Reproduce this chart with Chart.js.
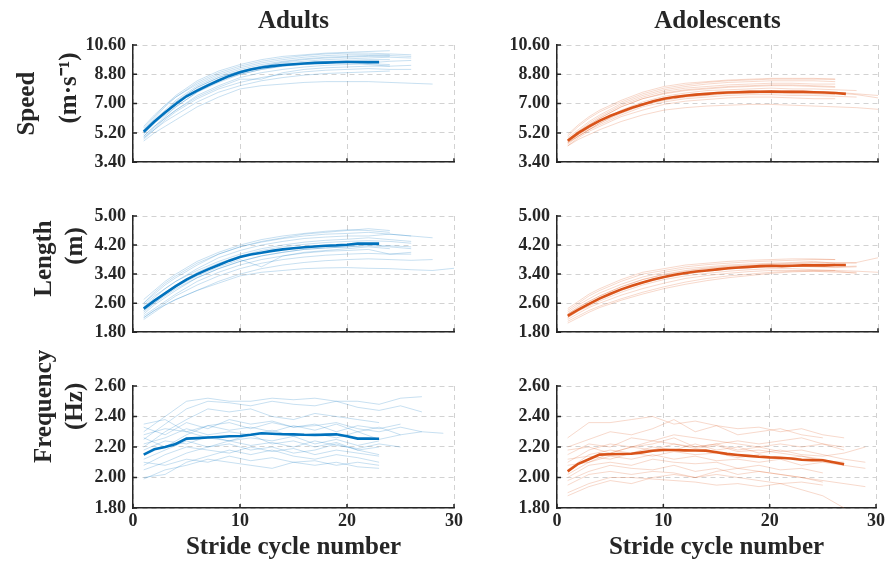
<!DOCTYPE html>
<html>
<head>
<meta charset="utf-8">
<script src="https://cdn.jsdelivr.net/npm/chart.js@4"></script>
<style>
body { margin: 0; background: #fff; }
#wrap { position: relative; width: 888px; height: 563px; background: #fff; }
canvas { position: absolute; }
</style>
</head>
<body>
<div id="wrap">
  <canvas id="adSpeed" width="470" height="180" style="left:0;top:0"></canvas>
  <canvas id="adoSpeed" width="418" height="180" style="left:470px;top:0"></canvas>
  <canvas id="adLength" width="470" height="170" style="left:0;top:180px"></canvas>
  <canvas id="adoLength" width="418" height="170" style="left:470px;top:180px"></canvas>
  <canvas id="adFreq" width="470" height="213" style="left:0;top:350px"></canvas>
  <canvas id="adoFreq" width="418" height="213" style="left:470px;top:350px"></canvas>
</div>
<script>
// tick labels
const strideTicks = [0, 10, 20, 30];
const speedTicks = [3.4, 5.2, 7.0, 8.8, 10.6];
const lengthTicks = [1.8, 2.6, 3.4, 4.2, 5.0];
const freqTicks = [1.8, 2.0, 2.2, 2.4, 2.6];

// stride numbers of the group means
const adultStrides = [1,2,3,4,5,6,7,8,9,10,11,12,13,14,15,16,17,18,19,20,21,22,23];
const adolescentStrides = [1,2,3,4,5,6,7,8,9,10,11,12,13,14,15,16,17,18,19,20,21,22,23,24,25,26,27];

// group means
const adultSpeedMean = [5.27,5.9,6.45,6.98,7.45,7.8,8.12,8.42,8.7,8.92,9.1,9.22,9.3,9.37,9.42,9.46,9.5,9.52,9.54,9.56,9.56,9.55,9.55];
const adolescentSpeedMean = [4.72,5.2,5.6,5.95,6.25,6.5,6.75,6.95,7.15,7.3,7.4,7.48,7.55,7.6,7.65,7.68,7.7,7.72,7.73,7.74,7.73,7.72,7.72,7.7,7.68,7.65,7.6];
const adultLengthMean = [2.45,2.67,2.87,3.07,3.25,3.4,3.53,3.65,3.77,3.87,3.94,3.99,4.04,4.08,4.11,4.14,4.16,4.18,4.19,4.21,4.24,4.24,4.24];
const adolescentLengthMean = [2.25,2.42,2.58,2.73,2.86,2.98,3.08,3.17,3.25,3.32,3.38,3.43,3.47,3.5,3.53,3.56,3.58,3.6,3.62,3.63,3.62,3.63,3.64,3.64,3.64,3.65,3.65];
const adultFreqMean = [2.15,2.185,2.2,2.22,2.255,2.258,2.262,2.266,2.27,2.272,2.28,2.29,2.287,2.284,2.283,2.28,2.279,2.281,2.283,2.27,2.255,2.255,2.254];
const adolescentFreqMean = [2.04,2.09,2.12,2.15,2.152,2.154,2.156,2.165,2.175,2.18,2.18,2.178,2.177,2.176,2.165,2.155,2.148,2.142,2.136,2.132,2.13,2.125,2.116,2.114,2.113,2.1,2.087];

const smoothStrides = [1,2,3,4,6,8,10,12,14,16,18,20,22,24,26,28,30];
const oddStrides = [1,3,5,7,9,11,13,15,17,19,21,23,25,27,29];

// single subjects (each array stops where that subject stops)
const adultSpeedSubjects = [
  [5.5,6.2,6.9,7.5,8.4,9.0,9.4,9.7,9.9,10.0,10.1,10.15,10.2,10.25],
  [5.4,6.1,6.8,7.4,8.3,8.9,9.3,9.6,9.8,9.95,10.05,10.1,10.1,10.05,10.0],
  [5.3,6.0,6.6,7.2,8.1,8.7,9.1,9.4,9.6,9.75,9.85,9.9,9.95,9.9],
  [5.2,5.9,6.5,7.1,8.0,8.6,9.0,9.3,9.5,9.6,9.7,9.75,9.8,9.85,9.8],
  [5.1,5.8,6.4,7.0,7.9,8.5,8.9,9.2,9.4,9.5,9.6,9.65,9.7,9.7],
  [5.2,5.8,6.3,6.8,7.7,8.4,8.8,9.1,9.3,9.45,9.55,9.6,9.5,9.6,9.65],
  [5.0,5.6,6.2,6.8,7.7,8.3,8.8,9.1,9.3,9.4,9.5,9.55,9.4,9.3,9.35],
  [4.9,5.5,6.1,6.6,7.5,8.1,8.6,8.9,9.1,9.25,9.35,9.4,9.45,9.4],
  [5.0,5.6,6.1,6.6,7.4,8.0,8.5,8.5,8.9,9.1,9.2,9.25,9.3,9.3],
  [4.8,5.4,6.0,6.5,7.3,7.9,8.3,8.6,8.8,8.95,9.05,9.1,9.15,9.1,9.1],
  [4.9,5.4,5.9,6.3,7.1,7.7,8.1,8.4,8.6,8.75,8.85,8.9,8.95,9.0],
  [4.7,5.2,5.6,6.0,6.8,7.4,7.9,8.1,8.2,8.3,8.35,8.35,8.35,8.3,8.25,8.2],
  [5.3,5.9,6.5,7.1,8.0,8.6,9.0,9.3,9.55,9.7,9.8,9.85,9.9,9.95,9.9],
  [5.6,6.3,6.9,7.4,8.2,8.8,9.2,9.5,9.7,9.85,9.95,10.0,10.0,10.0]
];
const adolescentSpeedSubjects = [
  [5.0,5.6,6.1,6.5,7.1,7.6,7.95,8.15,8.3,8.4,8.45,8.5,8.5,8.5,8.5],
  [4.9,5.4,5.9,6.3,7.0,7.5,7.85,8.05,8.2,8.3,8.35,8.4,8.4,8.4,8.35],
  [4.8,5.3,5.8,6.2,6.9,7.4,7.75,7.95,8.05,8.15,8.2,8.25,8.25,8.2,8.2],
  [4.7,5.2,5.7,6.1,6.8,7.3,7.6,7.8,7.9,8.0,8.05,8.1,8.1,8.05,8.0],
  [4.6,5.1,5.5,5.9,6.6,7.1,7.45,7.65,7.8,7.85,7.9,7.95,7.9,7.9,7.85,7.8],
  [4.7,5.1,5.5,5.9,6.5,7.0,7.35,7.55,7.65,7.75,7.8,7.8,7.8,7.75,7.7,7.6,7.5],
  [4.5,5.0,5.4,5.8,6.4,6.9,7.2,7.4,7.5,7.6,7.65,7.65,7.6,7.6,7.55],
  [4.6,5.0,5.4,5.7,6.3,6.8,7.1,7.3,7.4,7.5,7.55,7.55,7.5,7.5,7.45,7.4],
  [4.4,4.9,5.3,5.6,6.2,6.6,6.95,7.15,7.25,7.35,7.4,7.4,7.35,7.3,7.3],
  [4.4,4.8,5.1,5.4,5.9,6.3,6.6,6.75,6.85,6.9,6.95,6.95,6.9,6.85,6.8,6.75,6.65],
  [5.1,5.7,6.2,6.6,7.2,7.7,8.05,8.25,8.35,8.45,8.5,8.55,8.55,8.55,8.5],
  [4.8,5.3,5.7,6.1,6.8,7.3,7.65,7.85,7.95,8.05,8.1,8.15,8.15,8.1,8.05],
  [4.6,5.0,5.4,5.8,6.5,7.0,7.3,7.5,7.6,7.7,7.75,7.75,7.75,7.7,7.65,7.55,7.35]
];
const adultLengthSubjects = [
  [2.7,2.95,3.2,3.4,3.75,4.0,4.2,4.35,4.45,4.52,4.58,4.62,4.6,4.55],
  [2.6,2.85,3.1,3.3,3.65,3.95,4.15,4.3,4.4,4.5,4.55,4.6,4.65,4.6],
  [2.5,2.75,3.0,3.2,3.55,3.85,4.05,4.2,4.3,4.38,4.42,4.45,4.45,4.5,4.45],
  [2.55,2.8,3.0,3.2,3.5,3.75,3.95,4.1,4.2,4.28,4.33,4.36,4.4,4.35,4.3],
  [2.4,2.65,2.9,3.1,3.45,3.7,3.9,4.05,4.15,4.22,4.27,4.3,4.32,4.3,4.25],
  [2.4,2.6,2.85,3.05,3.35,3.6,3.8,3.6,3.9,4.0,4.05,4.1,4.15,4.1],
  [2.3,2.55,2.75,2.95,3.3,3.55,3.75,3.9,4.0,4.08,4.12,4.15,4.18,4.15,4.1],
  [2.25,2.45,2.65,2.85,3.2,3.45,3.65,3.8,3.9,3.98,4.03,4.05,4.08,3.95,4.0],
  [2.2,2.4,2.6,2.8,3.1,3.35,3.55,3.7,3.8,3.87,3.92,3.95,3.97,3.95,3.95],
  [2.15,2.35,2.55,2.7,2.95,3.2,3.4,3.55,3.65,3.72,3.77,3.8,3.82,3.8,3.78,3.8],
  [2.2,2.4,2.55,2.7,2.95,3.15,3.35,3.45,3.5,3.55,3.57,3.58,3.56,3.55,3.52,3.5,3.56],
  [2.6,2.9,3.15,3.35,3.7,3.95,4.15,4.28,4.38,4.45,4.5,4.52,4.55,4.5,4.45,4.4],
  [2.35,2.6,2.8,3.0,3.3,3.55,3.75,3.9,4.0,4.08,4.12,4.15,4.2,4.18,4.15]
];
const adolescentLengthSubjects = [
  [2.45,2.65,2.85,3.0,3.25,3.45,3.55,3.65,3.7,3.75,3.78,3.8,3.82,3.82,3.8],
  [2.4,2.6,2.8,2.95,3.2,3.4,3.5,3.6,3.66,3.7,3.74,3.76,3.78,3.8,3.8],
  [2.35,2.55,2.72,2.88,3.12,3.32,3.45,3.55,3.6,3.65,3.68,3.7,3.72,3.75,3.7,3.72,3.85],
  [2.3,2.5,2.65,2.8,3.05,3.25,3.38,3.48,3.55,3.6,3.63,3.65,3.68,3.7,3.68],
  [2.25,2.42,2.58,2.72,2.98,3.18,3.32,3.42,3.5,3.55,3.58,3.6,3.62,3.6,3.58,3.6],
  [2.2,2.38,2.52,2.66,2.9,3.1,3.25,3.35,3.42,3.48,3.52,3.55,3.55,3.52,3.5,3.48,3.45],
  [2.15,2.32,2.48,2.6,2.82,3.0,3.15,3.28,3.36,3.42,3.47,3.5,3.5,3.48,3.45,3.45],
  [2.1,2.25,2.4,2.52,2.72,2.9,3.05,3.18,3.28,3.35,3.4,3.45,3.48,3.5,3.5],
  [2.05,2.2,2.35,2.48,2.68,2.85,3.0,3.12,3.22,3.3,3.36,3.42,3.46,3.48,3.48,3.42],
  [2.3,2.48,2.65,2.8,3.05,3.25,3.4,3.5,3.57,3.62,3.65,3.68,3.7,3.72,3.72,3.7],
  [2.2,2.4,2.55,2.7,2.95,3.15,3.3,3.4,3.48,3.54,3.58,3.6,3.62,3.62,3.6,3.62]
];
const adultFreqSubjects = [
  [2.30,2.40,2.50,2.52,2.50,2.50,2.52,2.51,2.52,2.50,2.50,2.48,2.52,2.53],
  [2.25,2.35,2.45,2.50,2.49,2.47,2.50,2.48,2.47,2.50,2.46,2.44,2.47,2.43],
  [2.20,2.30,2.38,2.45,2.43,2.45,2.40,2.38,2.42,2.40,2.38,2.36],
  [2.33,2.28,2.36,2.32,2.38,2.35,2.37,2.33,2.35,2.30,2.34,2.32,2.35],
  [2.28,2.32,2.30,2.34,2.31,2.33,2.30,2.34,2.31,2.35,2.30,2.33,2.28,2.30,2.29],
  [2.22,2.26,2.32,2.28,2.30,2.28,2.31,2.27,2.29,2.26,2.30,2.25,2.28],
  [2.18,2.24,2.22,2.27,2.24,2.26,2.24,2.27,2.22,2.25,2.21,2.24],
  [2.12,2.18,2.24,2.20,2.24,2.21,2.23,2.20,2.24,2.21,2.19,2.22,2.20],
  [2.08,2.15,2.20,2.18,2.16,2.20,2.17,2.19,2.15,2.18,2.16,2.14],
  [2.05,2.10,2.16,2.20,2.22,2.18,2.20,2.16,2.18,2.22,2.18,2.20],
  [2.00,2.02,2.10,2.14,2.18,2.15,2.18,2.14,2.12,2.15,2.13,2.10],
  [2.10,2.08,2.12,2.10,2.14,2.11,2.13,2.10,2.11,2.08,2.10,2.08],
  [1.99,2.05,2.08,2.12,2.10,2.08,2.06,2.10,2.08,2.10,2.07,2.06],
  [2.35,2.38,2.30,2.26,2.24,2.28,2.22,2.24,2.20,2.23,2.18,2.15],
  [2.26,2.20,2.28,2.34,2.36,2.32,2.36,2.33,2.34,2.36,2.32,2.30,2.33,2.30]
];
const adolescentFreqSubjects = [
  [2.26,2.36,2.36,2.38,2.40,2.35,2.37,2.34,2.32,2.33,2.30,2.32,2.28,2.26],
  [2.20,2.25,2.30,2.28,2.32,2.38,2.30,2.34,2.28,2.30,2.32,2.28,2.26],
  [2.15,2.22,2.20,2.26,2.24,2.28,2.26,2.24,2.22,2.20,2.22,2.20,2.22,2.18],
  [2.10,2.18,2.22,2.20,2.24,2.22,2.20,2.22,2.18,2.20,2.17,2.18,2.15,2.12,2.10],
  [2.05,2.15,2.18,2.16,2.20,2.18,2.22,2.18,2.20,2.16,2.18,2.15,2.14,2.16,2.20],
  [2.12,2.14,2.12,2.16,2.14,2.17,2.15,2.16,2.13,2.15,2.12,2.14,2.11,2.10],
  [2.08,2.10,2.14,2.12,2.15,2.12,2.14,2.11,2.12,2.10,2.12,2.08,2.10,2.08,2.06],
  [2.00,2.08,2.10,2.08,2.12,2.10,2.09,2.10,2.06,2.08,2.05,2.06,2.03],
  [1.98,2.04,2.08,2.06,2.05,2.08,2.04,2.06,2.02,2.04,2.02,2.00,1.98,1.96,1.94],
  [1.95,2.02,2.04,2.02,2.04,2.03,2.00,2.02,2.00,1.98,1.96,1.92,1.88,1.80],
  [1.90,1.96,2.00,2.00,1.99,1.98,1.97,1.95,1.96,1.94,1.96,1.97,1.95],
  [1.88,1.94,1.98,1.96,2.00,2.02,2.00,2.04,2.06,2.04,2.02,2.00,1.97],
  [2.18,2.20,2.16,2.20,2.22,2.26,2.20,2.22,2.24,2.22,2.24,2.26,2.22,2.20],
  [2.02,2.10,2.16,2.20,2.18,2.22,2.19,2.21,2.17,2.18,2.16,2.14,2.12,2.08]
];

const FONT = "'Liberation Serif', 'Times New Roman', serif";
const INK = '#262626';
const GRID = '#d2d2d2';
const BLUE = '#0072BD';
const BLUE_LIGHT = 'rgba(0,114,189,0.22)';
const ORANGE = '#D95319';
const ORANGE_LIGHT = 'rgba(217,83,25,0.22)';

// MATLAB style tick marks pointing into the axes
const innerTicks = {
    id: 'innerTicks',
    afterDraw(chart) {
        const {ctx, chartArea, scales} = chart;
        ctx.save();
        ctx.strokeStyle = INK;
        ctx.lineWidth = 1.5;
        ctx.beginPath();
        scales.x.ticks.forEach(t => {
            const px = scales.x.getPixelForValue(t.value);
            ctx.moveTo(px, chartArea.bottom);
            ctx.lineTo(px, chartArea.bottom - 4);
        });
        scales.y.ticks.forEach(t => {
            const py = scales.y.getPixelForValue(t.value);
            ctx.moveTo(chartArea.left, py);
            ctx.lineTo(chartArea.left + 4, py);
        });
        ctx.stroke();
        ctx.restore();
    }
};

function makePanel(id, p) {
    const datasets = [{
        data: p.meanX.map((x, i) => ({x: x, y: p.mean[i]})),
        borderColor: p.color,
        borderWidth: 2.6
    }];
    p.subjects.forEach(s => {
        datasets.push({
            data: s.map((y, i) => ({x: p.sampleX[i], y: y})),
            borderColor: p.light,
            borderWidth: 1
        });
    });

    return new Chart(document.getElementById(id), {
        type: 'line',
        data: {datasets: datasets},
        options: {
            responsive: false,
            animation: false,
            devicePixelRatio: 1,
            layout: {padding: {top: p.padTop, right: p.padRight, bottom: 0, left: 0}},
            elements: {point: {radius: 0}, line: {tension: 0}},
            plugins: {
                legend: {display: false},
                tooltip: {enabled: false},
                title: {
                    display: !!p.title,
                    text: p.title || '',
                    fullSize: false,
                    color: INK,
                    font: {family: FONT, size: 25, weight: 'bold'},
                    padding: {top: 7, bottom: 8}
                }
            },
            scales: {
                x: {
                    type: 'linear',
                    min: 0,
                    max: 30,
                    afterBuildTicks: s => { s.ticks = strideTicks.map(v => ({value: v})); },
                    afterFit: s => { s.height = p.xHeight; },
                    ticks: {
                        display: p.showX,
                        color: INK,
                        padding: 3,
                        font: {family: FONT, size: 18, weight: 'bold'}
                    },
                    grid: {color: GRID, drawTicks: false},
                    border: {color: INK, width: 1.5, dash: [5, 4]},
                    title: {
                        display: p.showX,
                        text: 'Stride cycle number',
                        color: INK,
                        font: {family: FONT, size: 25, weight: 'bold'},
                        padding: {top: 0, bottom: 0}
                    }
                },
                y: {
                    min: p.yTicks[0],
                    max: p.yTicks[p.yTicks.length - 1],
                    afterBuildTicks: s => { s.ticks = p.yTicks.map(v => ({value: v})); },
                    afterFit: s => { s.width = p.yWidth; },
                    ticks: {
                        color: INK,
                        padding: 7,
                        font: {family: FONT, size: 18, weight: 'bold'},
                        callback: v => v.toFixed(2)
                    },
                    grid: {color: GRID, drawTicks: false},
                    border: {color: INK, width: 1.5, dash: [5, 4]},
                    title: {
                        display: !!p.yTitle,
                        text: p.yTitle || '',
                        color: INK,
                        font: {family: FONT, size: 25, weight: 'bold', lineHeight: p.yLine || 1.24},
                        padding: {top: p.yPad || 0, bottom: 0}
                    }
                }
            }
        },
        plugins: [innerTicks]
    });
}

const left = {color: BLUE, light: BLUE_LIGHT, meanX: adultStrides, yWidth: 133, padRight: 16};
const right = {color: ORANGE, light: ORANGE_LIGHT, meanX: adolescentStrides, yWidth: 87, padRight: 10};
const row1 = {padTop: 0, xHeight: 12, showX: false, yTicks: speedTicks, sampleX: smoothStrides};
const row2 = {padTop: 36, xHeight: 12, showX: false, yTicks: lengthTicks, sampleX: smoothStrides};
const row3 = {padTop: 36, xHeight: 55, showX: true, yTicks: freqTicks, sampleX: oddStrides};

makePanel('adSpeed', Object.assign({}, left, row1, {
    title: 'Adults', mean: adultSpeedMean, subjects: adultSpeedSubjects,
    yTitle: ['Speed', '     (m\u00b7s\u207b\u00b9)'], yLine: 1.68, yPad: 7
}));
makePanel('adoSpeed', Object.assign({}, right, row1, {
    title: 'Adolescents', mean: adolescentSpeedMean, subjects: adolescentSpeedSubjects
}));
makePanel('adLength', Object.assign({}, left, row2, {
    mean: adultLengthMean, subjects: adultLengthSubjects,
    yTitle: ['     Length', '         (m)'], yPad: 29
}));
makePanel('adoLength', Object.assign({}, right, row2, {
    mean: adolescentLengthMean, subjects: adolescentLengthSubjects
}));
makePanel('adFreq', Object.assign({}, left, row3, {
    mean: adultFreqMean, subjects: adultFreqSubjects,
    yTitle: ['             Frequency', '             (Hz)'], yPad: 29
}));
makePanel('adoFreq', Object.assign({}, right, row3, {
    mean: adolescentFreqMean, subjects: adolescentFreqSubjects
}));
</script>
</body>
</html>
